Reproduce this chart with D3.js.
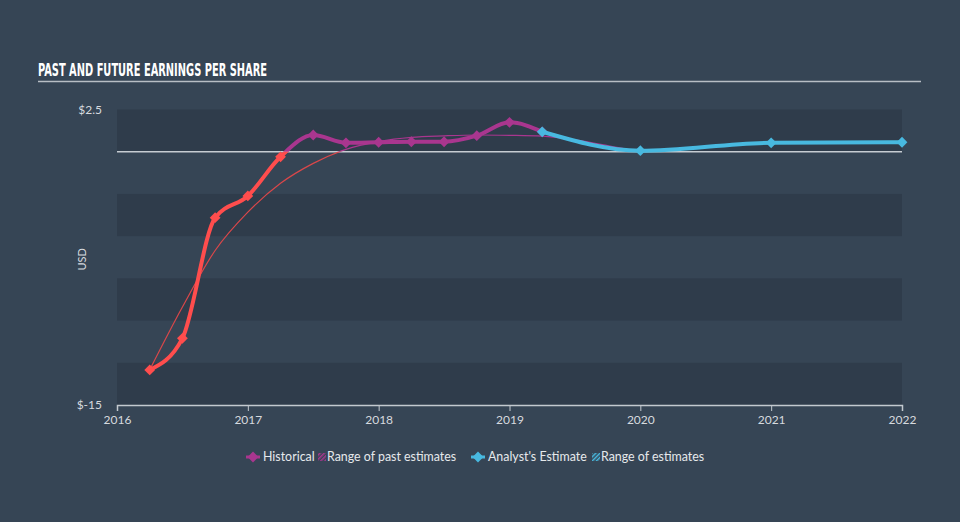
<!DOCTYPE html>
<html>
<head>
<meta charset="utf-8">
<script src="https://cdn.jsdelivr.net/npm/d3@7"></script>
<style>
  html, body { margin: 0; padding: 0; background: #364555; }
  svg { display: block; }
</style>
</head>
<body>
<svg id="chart" width="960" height="522"></svg>
<script>
// ---- data ----
const histDates  = [2016.25, 2016.5, 2016.75, 2017.0, 2017.25, 2017.5, 2017.75, 2018.0, 2018.25, 2018.5, 2018.75, 2019.0, 2019.25];
const histValues = [-12.92, -11.05, -3.91, -2.62, -0.30, 0.99, 0.53, 0.56, 0.59, 0.59, 0.95, 1.74, 1.18];

const pastEstDates  = [2016.25, 2016.5, 2016.75, 2017.0, 2017.25, 2017.5, 2017.75, 2018.0, 2018.25, 2018.5, 2018.75, 2019.0, 2019.25, 2019.5, 2019.75, 2020.0];
const pastEstValues = [-12.92, -9.2, -5.85, -3.58, -1.87, -0.69, 0.14, 0.6, 0.85, 0.94, 0.99, 0.97, 0.92, 0.7, 0.36, -0.02];

const fcDates  = [2019.25, 2020.0, 2021.0, 2022.0];
const fcValues = [1.18, 0.06, 0.53, 0.56];

const xTicks = [2016, 2017, 2018, 2019, 2020, 2021, 2022];
const yTickLabels = [{v: 2.5, t: "$2.5"}, {v: -15, t: "$-15"}];
const bandEdges = [2.5, 0, -2.5, -5, -7.5, -10, -12.5, -15];

const title = "PAST AND FUTURE EARNINGS PER SHARE";
const legendItems = ["Historical", "Range of past estimates", "Analyst's Estimate", "Range of estimates"];

// ---- style ----
const C = {
  red: "#ff4d4d", redThin: "#d9474a", purple: "#a9368f", cyan: "#48b9e0",
  band: "#2f3c4b", axis: "#c3c9cf", text: "#d6dadf", legend: "#e6e9ec"
};

const svg = d3.select("#chart");
const L = 117, R = 902, T = 109.5, B = 405;
const x = d3.scaleLinear().domain([2016, 2022]).range([L, R]);
const y = d3.scaleLinear().domain([-15, 2.5]).range([B, T]);

// title
svg.append("text").attr("x", 38).attr("y", 76)
  .attr("font-family", "'Liberation Sans Narrow', 'DejaVu Sans Condensed', sans-serif")
  .attr("font-weight", "bold").attr("font-size", 18).attr("fill", "#ffffff")
  .attr("textLength", 229).attr("lengthAdjust", "spacingAndGlyphs")
  .text(title);
svg.append("line").attr("x1", 38).attr("x2", 921).attr("y1", 81.5).attr("y2", 81.5)
  .attr("stroke", "#b8bec5").attr("stroke-width", 1.5);

// bands
const bands = d3.pairs(bandEdges).filter((d, i) => i % 2 === 0);
svg.append("g").selectAll("rect").data(bands).join("rect")
  .attr("x", L).attr("width", R - L)
  .attr("y", d => y(d[0])).attr("height", d => y(d[1]) - y(d[0]))
  .attr("fill", C.band);

// zero line
svg.append("line").attr("x1", L).attr("x2", R).attr("y1", y(0)).attr("y2", y(0))
  .attr("stroke", "#c6ccd2").attr("stroke-width", 1.5);

// y labels
svg.append("g").selectAll("text").data(yTickLabels).join("text")
  .attr("x", 102).attr("y", d => y(d.v)).attr("dy", "0.35em")
  .attr("text-anchor", "end").attr("font-family", "Lato, sans-serif").attr("font-size", 12)
  .attr("fill", C.text).text(d => d.t);
svg.append("text").attr("transform", `translate(86,${(T + B) / 2 + 2}) rotate(-90)`)
  .attr("text-anchor", "middle").attr("font-family", "Lato, sans-serif").attr("font-size", 11)
  .attr("fill", C.text).text("USD");

// x axis
const xAxis = svg.append("g").attr("transform", `translate(0,${B})`)
  .call(d3.axisBottom(x).tickValues(xTicks).tickFormat(d3.format("d")).tickSize(6).tickPadding(4));
xAxis.select(".domain").attr("stroke", C.axis).attr("stroke-width", 1.5);
xAxis.selectAll(".tick line").attr("stroke", C.axis);
xAxis.selectAll(".tick text").attr("fill", C.text).attr("font-family", "Lato, sans-serif").attr("font-size", 12);

// clips
const defs = svg.append("defs");
defs.append("clipPath").attr("id", "above").append("rect")
  .attr("x", 0).attr("y", 0).attr("width", 960).attr("height", y(0));
defs.append("clipPath").attr("id", "below").append("rect")
  .attr("x", 0).attr("y", y(0)).attr("width", 960).attr("height", 522 - y(0));

const line = d3.line().x(d => x(d[0])).y(d => y(d[1])).curve(d3.curveMonotoneX);
const pastEst = d3.zip(pastEstDates, pastEstValues);
const hist = d3.zip(histDates, histValues);
const fc = d3.zip(fcDates, fcValues);

// past estimates thin line
svg.append("path").attr("d", line(pastEst)).attr("fill", "none")
  .attr("stroke", C.purple).attr("stroke-width", 1.2).attr("clip-path", "url(#above)");
svg.append("path").attr("d", line(pastEst)).attr("fill", "none")
  .attr("stroke", C.redThin).attr("stroke-width", 1.2).attr("clip-path", "url(#below)");

// historical thick line
svg.append("path").attr("d", line(hist)).attr("fill", "none")
  .attr("stroke", C.purple).attr("stroke-width", 4).attr("clip-path", "url(#above)");
svg.append("path").attr("d", line(hist)).attr("fill", "none")
  .attr("stroke", C.red).attr("stroke-width", 4).attr("clip-path", "url(#below)");

const diamond = d3.symbol().type(d3.symbolSquare).size(58);
svg.append("g").selectAll("path").data(hist).join("path")
  .attr("d", diamond)
  .attr("transform", d => `translate(${x(d[0])},${y(d[1])}) rotate(45)`)
  .attr("fill", d => d[1] < 0 ? C.red : C.purple);

// forecast
svg.append("path").attr("d", line(fc)).attr("fill", "none")
  .attr("stroke", C.cyan).attr("stroke-width", 4);
svg.append("g").selectAll("path").data(fc).join("path")
  .attr("d", diamond)
  .attr("transform", d => `translate(${x(d[0])},${y(d[1])}) rotate(45)`)
  .attr("fill", C.cyan);

// legend
const pat = (id, col) => {
  const p = defs.append("pattern").attr("id", id).attr("patternUnits", "userSpaceOnUse")
    .attr("width", 3).attr("height", 3).attr("patternTransform", "rotate(45)");
  p.append("rect").attr("width", 1.5).attr("height", 3).attr("fill", col);
};
pat("hatchP", C.purple); pat("hatchC", C.cyan);

const lg = svg.append("g").attr("font-family", "Lato, sans-serif").attr("font-size", 12.4).attr("fill", C.legend);
const ly = 457;
const legendDefs = [
  {type: "line", col: C.purple, x: 255, tx: 263, text: legendItems[0]},
  {type: "hatch", col: "url(#hatchP)", x: 322, tx: 327, text: legendItems[1]},
  {type: "line", col: C.cyan, x: 480, tx: 488, text: legendItems[2]},
  {type: "hatch", col: "url(#hatchC)", x: 596, tx: 601, text: legendItems[3]}
];
legendDefs.forEach(d => {
  if (d.type === "line") {
    lg.append("line").attr("x1", d.x - 9).attr("x2", d.x + 5).attr("y1", ly).attr("y2", ly)
      .attr("stroke", d.col).attr("stroke-width", 3);
    lg.append("path").attr("d", diamond).attr("transform", `translate(${d.x - 2},${ly}) rotate(45)`)
      .attr("fill", d.col);
  } else {
    lg.append("rect").attr("x", d.x - 4).attr("y", ly - 4).attr("width", 8).attr("height", 8)
      .attr("fill", d.col);
  }
  lg.append("text").attr("x", d.tx).attr("y", ly).attr("dy", "0.35em").text(d.text);
});
</script>
</body>
</html>
